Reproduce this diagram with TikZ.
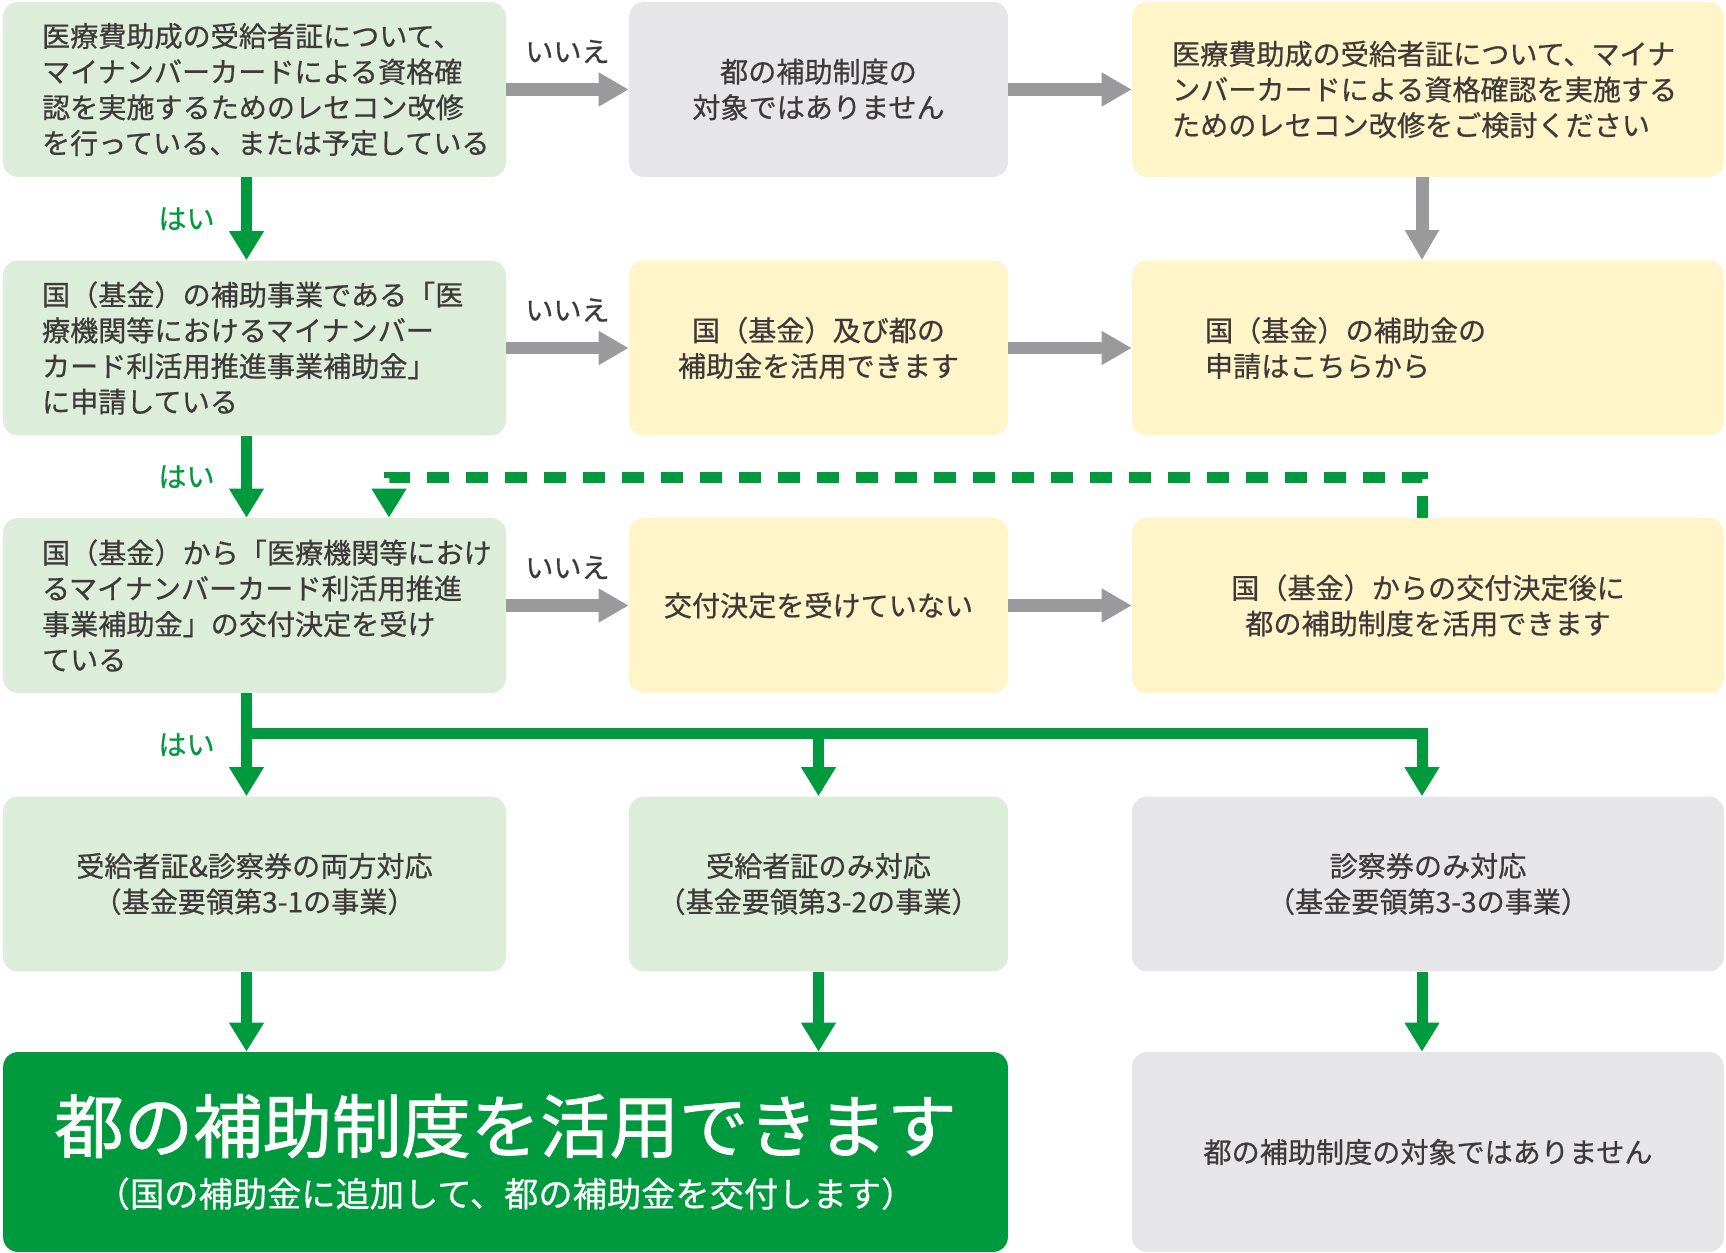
\documentclass[tikz,border=0pt]{standalone}
\usepackage{fontspec}
\setmainfont{Noto Sans CJK JP}[FakeBold=0.6]
\newfontfamily\titlefont{Noto Sans CJK JP}[FakeBold=1.2]
\usepackage{tikz}
\usetikzlibrary{arrows.meta}
\definecolor{colorG}{HTML}{DCEDDA}
\definecolor{colorY}{HTML}{FFF5C9}
\definecolor{colorN}{HTML}{E6E6E8}
\definecolor{colorOK}{HTML}{009A3E}
\definecolor{colorA}{HTML}{9A9A9C}
\definecolor{colorT}{HTML}{3E3A39}
\tikzset{
    box/.style={rounded corners=0.3cm,inner sep=0pt,minimum height=3.5cm,text=colorT,
        font=\fontsize{16pt}{20.3pt}\selectfont},
    colA/.style={minimum width=10.06cm},
    colB/.style={minimum width=7.58cm},
    colC/.style={minimum width=11.84cm},
    grayarrow/.style={draw=colorA,line width=0.26cm,-{Triangle[length=0.6cm,width=0.64cm]}},
    greenarrow/.style={draw=colorOK,line width=0.22cm,-{Triangle[length=0.58cm,width=0.66cm]}},
    greendash/.style={greenarrow,dash pattern=on 0.44cm off 0.34cm},
    nolabel/.style={midway,yshift=0.76cm,text=colorT,font=\fontsize{16pt}{20pt}\selectfont},
    yeslabel/.style={midway,xshift=-1.2cm,text=colorOK,font=\fontsize{16pt}{20pt}\selectfont}
}

\begin{document}
\begin{tikzpicture}[x=0.02cm,y=-0.02cm]
        \useasboundingbox (0,0) rectangle (1726,1253);
        \coordinate (spineA) at (246.5,0);
        \coordinate (spineC) at (1422,0);
        \coordinate (bar) at (0,733);
        \coordinate (dashL) at (389,477);
        % row 1
        \node[box,colA,fill=colorG,text width=8.5cm,align=left] (ask1) at (254.5,89.5) {医療費助成の受給者証について、\\マイナンバーカードによる資格確\\認を実施するためのレセコン改修\\を行っている、または予定している};
        \node[box,colB,fill=colorN,align=center] (notcov) at (818.5,89.5) {都の補助制度の\\対象ではありません};
        \node[box,colC,fill=colorY,text width=10.24cm,align=left] (renov) at (1428,89.5) {医療費助成の受給者証について、マイナ\\ンバーカードによる資格確認を実施する\\ためのレセコン改修をご検討ください};
        % row 2
        \node[box,colA,fill=colorG,text width=8.5cm,align=left] (ask2) at (254.5,348) {国（基金）の補助事業である「医\\療機関等におけるマイナンバー\\カード利活用推進事業補助金」\\に申請している};
        \node[box,colB,fill=colorY,align=center] (both) at (818.5,348) {国（基金）及び都の\\補助金を活用できます};
        \node[box,colC,fill=colorY,text width=8.92cm,align=left] (apply) at (1428,348) {国（基金）の補助金の\\申請はこちらから};
        % row 3
        \node[box,colA,fill=colorG,text width=8.5cm,align=left] (ask3) at (254.5,605.5) {国（基金）から「医療機関等におけ\\るマイナンバーカード利活用推進\\事業補助金」の交付決定を受け\\ている};
        \node[box,colB,fill=colorY,align=center] (nodec) at (818.5,605.5) {交付決定を受けていない};
        \node[box,colC,fill=colorY,align=center] (after) at (1428,605.5) {国（基金）からの交付決定後に\\都の補助制度を活用できます};
        % row 4
        \node[box,colA,fill=colorG,align=center] (optA) at (254.5,884) {受給者証\&診察券の両方対応\\（基金要領第3-1の事業）};
        \node[box,colB,fill=colorG,align=center] (optB) at (818.5,884) {受給者証のみ対応\\（基金要領第3-2の事業）};
        \node[box,colC,fill=colorN,align=center] (optC) at (1428,884) {診察券のみ対応\\（基金要領第3-3の事業）};
        % row 5
        \node[box,minimum width=20.1cm,minimum height=4cm,fill=colorOK,text=white,align=center,
            font=\fontsize{19.5pt}{31pt}\selectfont] (useit) at (505.5,1152) {{\titlefont\fontsize{39.5pt}{31pt}\selectfont 都の補助制度を活用できます}\\（国の補助金に追加して、都の補助金を交付します）};
        \node[box,colC,minimum height=4cm,fill=colorN,align=center] (notuse) at (1428,1152) {都の補助制度の対象ではありません};
        % no
        \draw[grayarrow] (ask1) -- (notcov) node[nolabel] (no1) {いいえ};
        \draw[grayarrow] (notcov) -- (renov);
        \draw[grayarrow] (renov.south -| spineC) -- (apply.north -| spineC);
        \draw[grayarrow] (ask2) -- (both) node[nolabel] (no2) {いいえ};
        \draw[grayarrow] (both) -- (apply);
        \draw[grayarrow] (ask3) -- (nodec) node[nolabel] (no3) {いいえ};
        \draw[grayarrow] (nodec) -- (after);
        % yes
        \draw[greenarrow] (ask1.south -| spineA) -- (ask2.north -| spineA) node[yeslabel] (yes1) {はい};
        \draw[greenarrow] (ask2.south -| spineA) -- (ask3.north -| spineA) node[yeslabel] (yes2) {はい};
        \draw[greenarrow] (ask3.south -| spineA) -- (optA.north -| spineA) node[yeslabel] (yes3) {はい};
        \draw[greenarrow] (bar -| spineA) -| (optC.north -| spineC);
        \draw[greenarrow] (bar -| optB.north) -- (optB.north);
        \draw[greendash] (after.north -| spineC) |- (dashL) -- (ask3.north -| dashL);
        \draw[greenarrow] (optA.south -| spineA) -- (useit.north -| spineA);
        \draw[greenarrow] (optB.south) -- (useit.north -| optB.south);
        \draw[greenarrow] (optC.south -| spineC) -- (notuse.north -| spineC);
    \end{tikzpicture}
\end{document}
